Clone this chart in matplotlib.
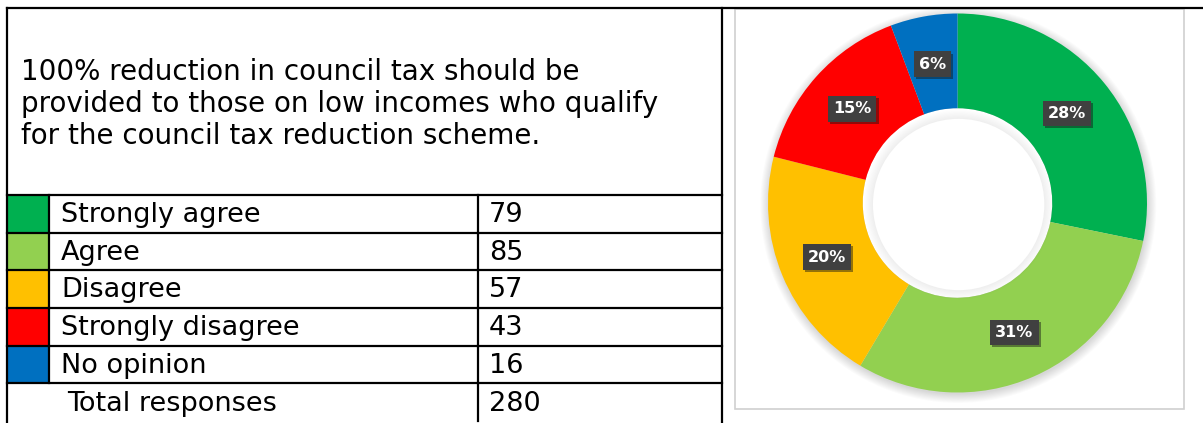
import numpy as np
import matplotlib.pyplot as plt
from matplotlib.patches import Rectangle, Circle
import matplotlib.patheffects as pe

plt.rcParams['font.family'] = ['DejaVu Sans']

# data
question = ("100% reduction in council tax should be\n"
            "provided to those on low incomes who qualify\n"
            "for the council tax reduction scheme.")
answers = ["Strongly agree", "Agree", "Disagree", "Strongly disagree", "No opinion"]
counts = [79, 85, 57, 43, 16]
total_label = "Total responses"
total = 280
pct_labels = ["28%", "31%", "20%", "15%", "6%"]
colors = ["#00B050", "#92D050", "#FFC000", "#FF0000", "#0070C0"]

W, H = 1203, 423
fig = plt.figure(figsize=(W / 100, H / 100), dpi=100)

# table, drawn in pixel coords
ax = fig.add_axes([0, 0, 1, 1])
ax.set_xlim(0, W)
ax.set_ylim(H, 0)
ax.axis("off")

lw = 1.6
x_left, x_sw, x_val, x_right = 7, 49, 478, 722
y_top, y_rows = 8, 195
row_h = 37.7

ax.plot([x_left, W], [y_top, y_top], color="black", lw=lw)
ax.plot([x_left, x_left], [y_top, H], color="black", lw=lw)
ax.plot([x_right, x_right], [y_top, H], color="black", lw=lw)

ax.text(21, 104, question, fontsize=20, va="center", ha="left",
        linespacing=1.2)

for i in range(len(answers) + 1):
    y0 = y_rows + i * row_h
    ax.plot([x_left, x_right], [y0, y0], color="black", lw=lw)
    ax.plot([x_val, x_val], [y0, y0 + row_h], color="black", lw=lw)
    yc = y0 + row_h / 2 + 1
    if i < len(answers):
        ax.add_patch(Rectangle((x_left + 1, y0 + 1), x_sw - x_left - 2, row_h - 2,
                               color=colors[i], lw=0))
        ax.plot([x_sw, x_sw], [y0, y0 + row_h], color="black", lw=lw)
        ax.text(61, yc, answers[i], fontsize=19.5, va="center", ha="left")
        ax.text(489, yc, str(counts[i]), fontsize=19.5, va="center", ha="left")
    else:
        ax.text(67, yc + 1, total_label, fontsize=19.5, va="center", ha="left")
        ax.text(489, yc + 1, str(total), fontsize=19.5, va="center", ha="left")

# chart frame
ax.add_patch(Rectangle((735, 9), 449, 400, fill=False, ec="#D0D0D0", lw=1.2))

# donut
cx, cy, R = 957.5, 203, 189.5
half = 205
pax = fig.add_axes([(cx - half) / W, (H - cy - half) / H, 2 * half / W, 2 * half / H])

wedges, _ = pax.pie(counts, colors=colors, startangle=90, counterclock=False,
                    radius=1.0, wedgeprops=dict(width=0.5, lw=0))
for w in wedges:
    w.set_zorder(2)

lim = half / R
pax.set_xlim(-lim, lim)
pax.set_ylim(-lim, lim)
pax.set_aspect("equal")
pax.axis("off")

# soft shadow around the ring
for k in range(10):
    pax.add_patch(Circle((0.004, -0.01), 1.0 + k * 0.005, color="#000000",
                         alpha=0.015, lw=0, zorder=0))

# hole: white, with a faint inner shading near the edge
pax.add_patch(Circle((0, 0), 0.5, color="white", lw=0, zorder=1))
for k in range(8):
    pax.add_patch(Circle((0.006, -0.008), 0.5 - k * 0.006, color="#000000",
                         alpha=0.006, lw=0, zorder=3))
pax.add_patch(Circle((0.006, -0.008), 0.5 - 8 * 0.006, color="white", lw=0, zorder=3))

for w, lab in zip(wedges, pct_labels):
    ang = np.deg2rad((w.theta1 + w.theta2) / 2)
    r = 0.745
    t = pax.text(r * np.cos(ang), r * np.sin(ang), lab, color="white",
                 fontsize=11.5, fontweight="bold", ha="center", va="center",
                 zorder=5,
                 bbox=dict(boxstyle="square,pad=0.32", fc="#404040", ec="none"))
    t.get_bbox_patch().set_path_effects(
        [pe.SimplePatchShadow(offset=(1.5, -1.5), alpha=0.45), pe.Normal()])

fig.savefig("out.png", dpi=100)
